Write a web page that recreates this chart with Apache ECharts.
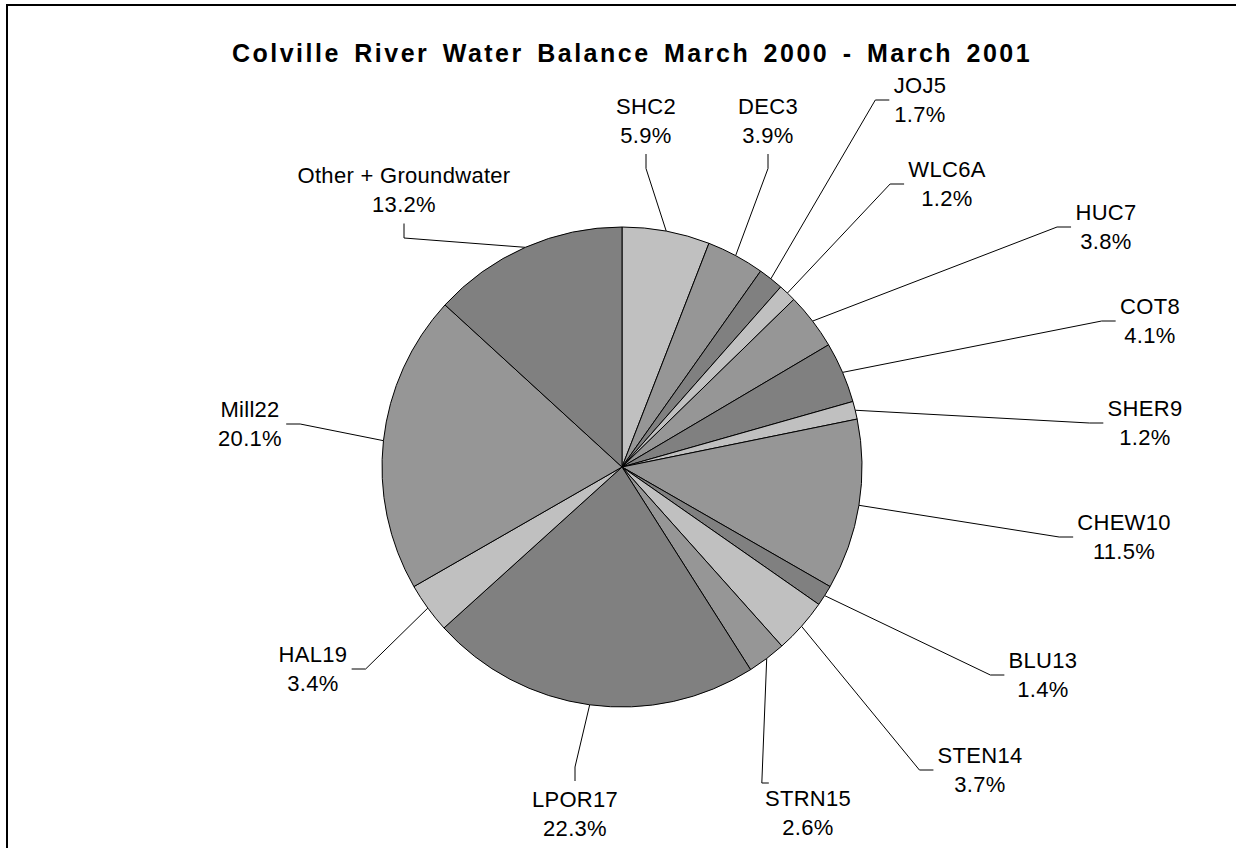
<!DOCTYPE html>
<html><head><meta charset="utf-8">
<script src="https://cdn.jsdelivr.net/npm/echarts@6/dist/echarts.min.js"></script>
<style>
html,body{margin:0;padding:0;background:#fff;}
#c{width:1236px;height:848px;}
#c text{letter-spacing:0.3px;}
#c text[style*="bold"]{letter-spacing:2.5px;word-spacing:4px;}
</style></head><body><div id="c"></div>
<script>
// ---- data ----
const categories = ['SHC2','DEC3','JOJ5','WLC6A','HUC7','COT8','SHER9','CHEW10','BLU13','STEN14','STRN15','LPOR17','HAL19','Mill22','Other + Groundwater'];
const shares = [5.9,3.9,1.7,1.2,3.8,4.1,1.2,11.5,1.4,3.7,2.6,22.3,3.4,20.1,13.2];
const chartTitle = 'Colville River Water Balance March 2000 - March 2001';

// ---- layout / style ----
const fills = ['#C0C0C0','#969696','#808080'];
const CX = 622, CY = 467, R = 240;
// label block centres and which side the leader line attaches to
const labelAnchors = [
  [646,120.5,'b'],[768,120.5,'b'],[920,100,'l'],[947,184,'l'],[1106,227,'l'],
  [1150,321,'l'],[1145,423,'l'],[1124,537,'l'],[1043,675,'l'],[980,770,'l'],
  [808,813,'tl'],[575,814,'t'],[313,669,'r'],[250,424,'r'],[404,190,'b']
];

const total = shares.reduce((a,b)=>a+b,0);
const mids = []; let acc = 0;
shares.forEach(v => { mids.push((acc + v/2) / total * 2 * Math.PI); acc += v; });

const chart = echarts.init(document.getElementById('c'), null, {renderer:'svg'});
chart.setOption({
  backgroundColor:'#fff',
  animation:false,
  title:{
    text: chartTitle, left: 627, top: 35, textAlign:'center',
    textStyle:{fontFamily:'Liberation Sans', fontSize:25, fontWeight:'bold', color:'#000'}
  },
  graphic:[{type:'rect', shape:{x:7,y:5,width:1260,height:880}, style:{fill:'none', stroke:'#000', lineWidth:2}, silent:true}],
  series:[{
    type:'pie', center:[CX,CY], radius:R, startAngle:90, clockwise:true,
    avoidLabelOverlap:false,
    data: categories.map((n,i)=>({name:n, value:shares[i], itemStyle:{color:fills[i%3]}})),
    itemStyle:{borderColor:'#000', borderWidth:1},
    label:{show:true, position:'outside',
      formatter: p => p.name + '\n' + p.value.toFixed(1) + '%',
      fontFamily:'Liberation Sans', fontSize:22, color:'#000', lineHeight:29, align:'center'},
    labelLine:{show:true, length:20, length2:20, lineStyle:{color:'#000', width:1}},
    emphasis:{disabled:true},
    labelLayout: function(p){
      const i = p.dataIndex;
      const a = labelAnchors[i];
      const x = a[0], y = a[1];
      const w = p.labelRect.width;
      const th = mids[i];
      const e = [CX + R*Math.sin(th), CY - R*Math.cos(th)];
      let p1, p2;
      if (a[2]==='b'){ p1=[x, y+33.5]; p2=[x, y+48]; }
      else if (a[2]==='t'){ p1=[x, y-33]; p2=[x, y-47]; }
      else if (a[2]==='tl'){ p1=[x-w/2+3, y-30]; p2=[x-w/2-4, y-30]; }
      else if (a[2]==='l'){ p1=[x-w/2-5, y]; p2=[x-w/2-19, y]; }
      else { p1=[x+w/2+5, y]; p2=[x+w/2+19, y]; }
      return {x:x, y:y, align:'center', verticalAlign:'middle', labelLinePoints:[e, p2, p1]};
    }
  }]
});
</script></body></html>
